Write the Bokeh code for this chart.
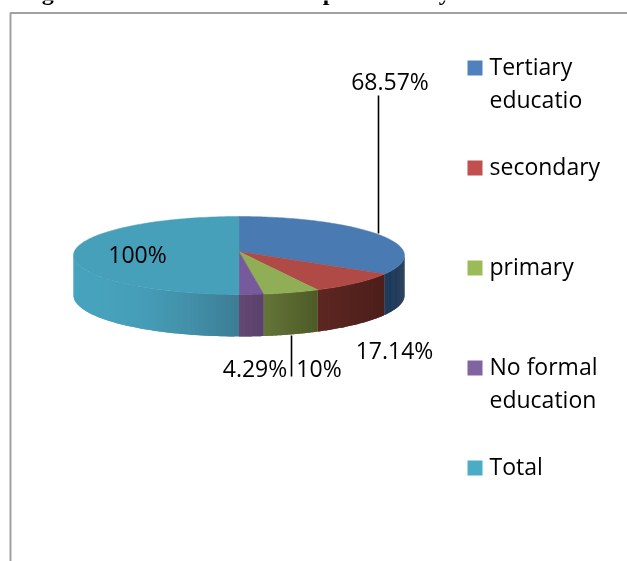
import numpy as np
from bokeh.plotting import figure
from bokeh.models import Range1d
from bokeh.embed import file_html
from bokeh.resources import INLINE
from bokeh.core.properties import value

categories = ["Tertiary educatio", "secondary", "primary", "No formal education", "Total"]
values = [68.57, 17.14, 10, 4.29, 100]
top_colors = ["#4A7AB2", "#B04A46", "#90AE55", "#775A9B", "#46A0BA"]
legend_colors = ["#4F81BD", "#C0504D", "#9BBB59", "#8064A2", "#4BACC6"]
side_left = ["#1F3D5F", "#5E2822", "#66763A", "#5F4370", "#48A4BE"]
side_right = ["#1C3350", "#4E1F1C", "#4E5C28", "#553B66", "#3D7D95"]
title_words = ["Figure 4.1:", "Respondents", "by", "education"]
labels = ["68.57%", "17.14%", "10%", "4.29%", "100%"]

W, H = 627, 561
p = figure(width=W, height=H, toolbar_location=None, output_backend="svg",
           x_range=Range1d(0, W), y_range=Range1d(H, 0), min_border=0,
           outline_line_color=None)
p.axis.visible = False
p.grid.visible = False
p.styles = {"position": "fixed", "left": "0px", "top": "0px"}

cx, cy, rx, ry, depth, lift = 238.5, 255, 165.5, 39, 40, 0.1
total = sum(values)
edges = np.concatenate([[0], np.cumsum(values)]) / total * 2 * np.pi


def rim(a):
    # circle seen in perspective: its centre sits slightly behind the ellipse centre
    X, Y = np.sin(a), np.cos(a)
    d = 1 + lift * Y
    return cx + rx * X * np.sqrt(1 - lift ** 2) / d, cy - ry * (Y + lift) / d


def hexrgb(c):
    return np.array([int(c[j:j + 2], 16) for j in (1, 3, 5)], dtype=float)


vis_lo = np.arccos(-lift)
vis_hi = 2 * np.pi - vis_lo

# side walls in overlapping strips for the shading
for i in range(len(values)):
    lo, hi = max(edges[i], vis_lo), min(edges[i + 1], vis_hi)
    if hi <= lo:
        continue
    n = 60
    ts = np.linspace(lo, hi, n + 1)
    xl, xr = rim(hi)[0], rim(lo)[0]
    c0, c1 = hexrgb(side_left[i]), hexrgb(side_right[i])
    xs, ys, cols = [], [], []
    for k in range(n):
        tt = np.linspace(ts[k], ts[min(k + 2, n)], 3)
        xa, ya = rim(tt)
        front = (ya - cy) / ry
        dd = depth + 2 * np.clip(front, 0, 1)
        xs.append(np.r_[xa, xa[::-1]].tolist())
        ys.append(np.r_[ya, (ya + dd)[::-1]].tolist())
        f = float(np.clip((xa[0] - xl) / (xr - xl), 0, 1))
        if i == 4:
            f = f ** 2
        c = c0 + (c1 - c0) * f
        cols.append("#%02x%02x%02x" % tuple(int(v) for v in c))
    p.patches(xs, ys, fill_color=cols, line_color=None)

# top faces
for i in range(len(values)):
    ts = np.linspace(edges[i], edges[i + 1], 120)
    xr_, yr_ = rim(ts)
    ax, ay = rim(0)[0], cy - ry * lift
    p.patch(np.r_[ax, xr_], np.r_[ay, yr_], fill_color=top_colors[i], line_color=top_colors[i], line_width=0.5)

# leader lines
p.line([378, 378], [95, 233], line_color="black", line_width=1.6)
p.line([291, 291], [335, 376], line_color="black", line_width=1.6)

# frame
p.line([10, 10, 627], [561, 12.5, 12.5], line_color="#A0A0A0", line_width=2)

# title, mostly cut off by the top of the picture
for x, t in zip([20, 285, 425, 533], title_words):
    p.text([x], [-9], text=[t], text_font=value("Liberation Serif"), text_font_size="24px",
           text_font_style="bold", text_color="black", text_baseline="alphabetic")

font = value("Open Sans")
pos = [(389.5, 81), (394, 350), (318.5, 368), (254.5, 368), (137, 254)]
for (x, y), t in zip(pos, labels):
    p.text([x], [y - 1], text=[t], text_font=font, text_font_size="23px", text_color="black",
           text_align="center", text_baseline="middle")

# legend
leg_y = [67.5, 167.5, 267.5, 367.5, 467.5]
leg_lines = [["Tertiary", "educatio"], ["secondary"], ["primary"], ["No formal", "education"], ["Total"]]
for yy, col, lines in zip(leg_y, legend_colors, leg_lines):
    p.rect([474.5], [yy], width=15, height=15, fill_color=col, line_color=None)
    for j, t in enumerate(lines):
        p.text([489], [yy - 2 + j * 33], text=[t], text_font=font, text_font_size="23px",
               text_color="black", text_baseline="middle")

open("out.html", "w").write(file_html(p, INLINE))
